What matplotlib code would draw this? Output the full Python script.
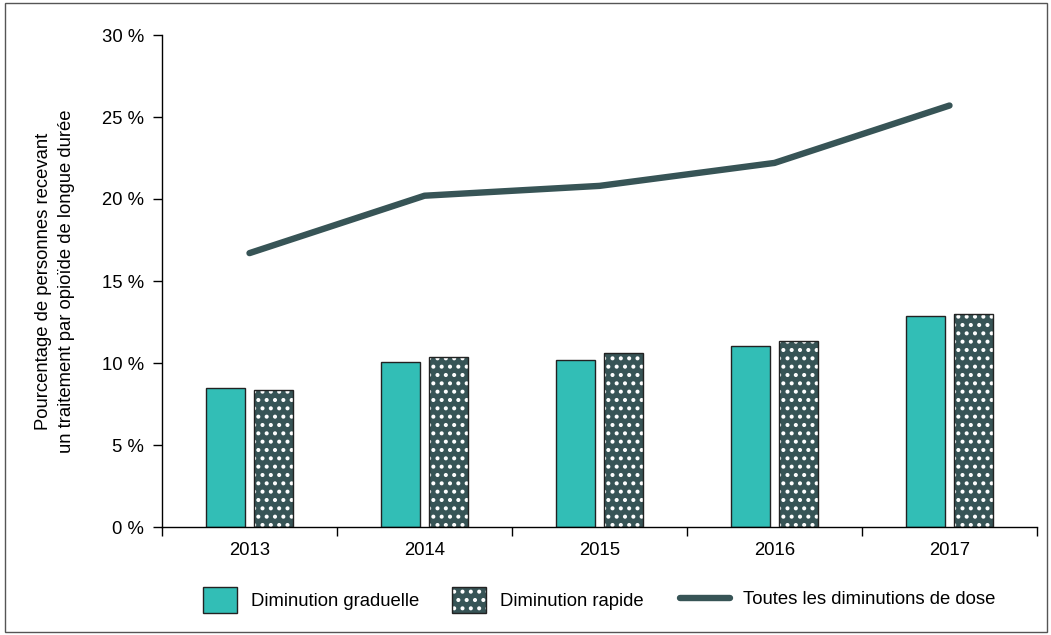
import numpy as np
import matplotlib
matplotlib.use("Agg")
import matplotlib.pyplot as plt
from matplotlib.patches import Patch, Rectangle
from matplotlib.lines import Line2D
from matplotlib.legend_handler import HandlerTuple
from matplotlib.ticker import FixedLocator, FixedFormatter

# ---- data -------------------------------------------------------------
years = ["2013", "2014", "2015", "2016", "2017"]
gradual = [8.5, 10.05, 10.2, 11.05, 12.85]
rapid = [8.35, 10.35, 10.6, 11.35, 13.0]
all_decreases = [16.7, 20.2, 20.8, 22.2, 25.7]
y_ticks = [0, 5, 10, 15, 20, 25, 30]
y_ticklabels = ["0 %", "5 %", "10 %", "15 %", "20 %", "25 %", "30 %"]

series_labels = ["Diminution graduelle", "Diminution rapide",
                 "Toutes les diminutions de dose"]
ylabel_text = ("Pourcentage de personnes recevant\n"
               "un traitement par opioïde de longue durée")

# ---- style ------------------------------------------------------------
TEAL = "#32BEB6"
DARK = "#375456"
EDGE = "#222222"
FS = 13.3

plt.rcParams["font.family"] = ["Liberation Sans", "DejaVu Sans"]
plt.rcParams["hatch.linewidth"] = 1.7

W, H = 1051, 635
fig = plt.figure(figsize=(W / 100, H / 100), dpi=100)
ax = fig.add_axes([162 / W, (H - 527) / H, (1037 - 162) / W, (527 - 35) / H])

x = np.arange(len(years))
bw = 0.225
off = 0.1375

# gradual decrease bars
ax.bar(x - off, gradual, bw, color=TEAL, edgecolor=EDGE, linewidth=1.0, zorder=2)

# rapid decrease bars: white dotted fill, then a dark outline on top
ax.bar(x + off, rapid, bw, color=DARK, edgecolor="white", linewidth=0,
       hatch="..", zorder=2)
ax.bar(x + off, rapid, bw, fill=False, edgecolor=EDGE, linewidth=1.0, zorder=3)

# all dose decreases
ax.plot(x, all_decreases, color=DARK, linewidth=4.6, solid_capstyle="round",
        solid_joinstyle="round", zorder=4)

# ---- axes -------------------------------------------------------------
ax.set_xlim(-0.5, len(years) - 0.5)
ax.set_ylim(0, 30)
for s in ("top", "right"):
    ax.spines[s].set_visible(False)
for s in ("left", "bottom"):
    ax.spines[s].set_linewidth(1.0)
    ax.spines[s].set_color("black")

ax.yaxis.set_major_locator(FixedLocator(y_ticks))
ax.yaxis.set_major_formatter(FixedFormatter(y_ticklabels))
ax.tick_params(axis="y", length=6.5, width=1.0, pad=6.5, labelsize=FS,
               colors="black")

ax.xaxis.set_major_locator(FixedLocator(x))
ax.xaxis.set_major_formatter(FixedFormatter(years))
ax.xaxis.set_minor_locator(FixedLocator(np.arange(len(years) + 1) - 0.5))
ax.tick_params(axis="x", which="major", length=0, pad=10.5, labelsize=FS)
ax.tick_params(axis="x", which="minor", length=6.5, width=1.0)

fig.text(55 / W, 1 - 281 / H, ylabel_text, rotation=90, ha="center",
         va="center", fontsize=FS, multialignment="center", linespacing=1.5)

# ---- legend -----------------------------------------------------------
gradual_handle = Patch(facecolor=TEAL, edgecolor=EDGE, linewidth=1.0)
rapid_handle = (Patch(facecolor=DARK, edgecolor="white", linewidth=0, hatch=".."),
                Patch(fill=False, edgecolor=EDGE, linewidth=1.0))
leg1 = fig.legend([gradual_handle, rapid_handle], series_labels[:2],
                  handler_map={tuple: HandlerTuple(ndivide=1, pad=0)},
                  loc="center left", bbox_to_anchor=(203 / W, 1 - 600 / H),
                  ncol=2, frameon=False, fontsize=FS, handlelength=1.85,
                  handleheight=1.74, handletextpad=0.75, columnspacing=1.75,
                  borderpad=0, borderaxespad=0)

line_handle = [Line2D([], [], color=DARK, linewidth=4.6,
                      solid_capstyle="round")]
leg2 = fig.legend(line_handle, series_labels[2:], loc="center left",
                  bbox_to_anchor=(680 / W, 1 - 600 / H), frameon=False,
                  fontsize=FS, handlelength=2.72, handletextpad=0.7,
                  borderpad=0, borderaxespad=0)

# outer frame around the figure
fig.add_artist(Rectangle((5 / W, 3 / H), (1047 - 5) / W, (632 - 3) / H,
                         transform=fig.transFigure, fill=False,
                         edgecolor="#555555", linewidth=1.0))

fig.savefig("out.png", dpi=100)
